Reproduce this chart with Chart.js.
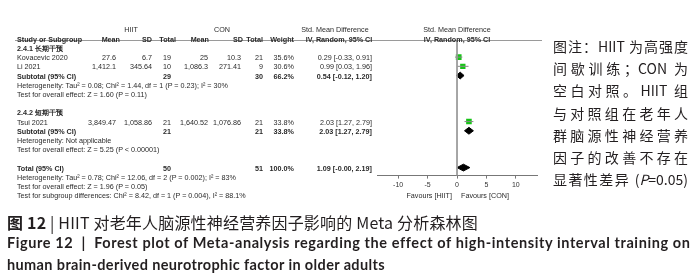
<!DOCTYPE html>
<html>
<head>
<meta charset="utf-8">
<script src="https://cdn.jsdelivr.net/npm/chart.js@4.4.1/dist/chart.umd.min.js"></script>
<style>
body{margin:0;width:700px;height:280px;background:#fff;position:relative;overflow:hidden;font-family:"Liberation Sans",Arial,sans-serif}
#forest{position:absolute;left:0;top:0;width:555px;height:205px}
#forest canvas{position:absolute;left:0;top:0}
#table{position:absolute;left:0;top:0;width:555px;height:205px}
.cell{position:absolute;white-space:nowrap;font-size:7.2px;line-height:9px;color:#2a2a2a}
.cell.b{font-weight:bold}
#note{position:absolute;left:553px;top:35px;width:135px;font-family:"Noto Sans CJK SC",sans-serif;font-size:14px;line-height:22.2px;color:#231f20}
#note div{text-align:justify;text-align-last:justify;height:22.2px}
.cap{position:absolute;left:7px;white-space:nowrap;color:#231f20}
#cap1{top:210px;font-family:"Noto Sans CJK SC",sans-serif;font-size:16px}
#cap2{top:234px;font-family:Lato,"Noto Sans",sans-serif;font-weight:bold;font-size:14.5px}
#cap3{top:256px;font-family:Lato,"Noto Sans",sans-serif;font-weight:bold;font-size:14.5px}
</style>
</head>
<body>
<div id="forest"><canvas id="plot" width="555" height="205"></canvas><div id="table"></div></div>
<div id="note">
<div>图注：HIIT 为高强度</div>
<div>间歇训练；CON 为</div>
<div>空白对照。HIIT 组</div>
<div>与对照组在老年人</div>
<div>群脑源性神经营养</div>
<div>因子的改善不存在</div>
<div>显著性差异 (<i>P</i>=0.05)</div>
</div>
<div class="cap" id="cap1"><b>图 12</b> | HIIT 对老年人脑源性神经营养因子影响的 Meta 分析森林图</div>
<div class="cap" id="cap2">Figure 12&nbsp; |&nbsp; Forest plot of Meta-analysis regarding the effect of high-intensity interval training on</div>
<div class="cap" id="cap3">human brain-derived neurotrophic factor in older adults</div>
<script>
// data
const xTicks = [-10, -5, 0, 5, 10];
const groupNames = ['2.4.1 长期干预', '2.4.2 短期干预'];
const studyNames = ['Kovacevic 2020', 'Li 2021', 'Tsui 2021'];
const hiitMean = [27.6, 1412.1, 3849.47];
const hiitSD = [6.7, 345.64, 1058.86];
const hiitN = [19, 10, 21];
const conMean = [25, 1086.3, 1640.52];
const conSD = [10.3, 271.41, 1076.86];
const conN = [21, 9, 21];
const weight = [35.6, 30.6, 33.8];
const smd = [0.29, 0.99, 2.03];
const ciLow = [-0.33, 0.03, 1.27];
const ciHigh = [0.91, 1.96, 2.79];
const subHiitN = [29, 21];
const subConN = [30, 21];
const subWeight = [66.2, 33.8];
const subSmd = [0.54, 2.03];
const subLow = [-0.12, 1.27];
const subHigh = [1.20, 2.79];
const subHet = ['Heterogeneity: Tau² = 0.08; Chi² = 1.44, df = 1 (P = 0.23); I² = 30%', 'Heterogeneity: Not applicable'];
const subTest = ['Test for overall effect: Z = 1.60 (P = 0.11)', 'Test for overall effect: Z = 5.25 (P < 0.00001)'];
const totalHiitN = 50;
const totalConN = 51;
const totalWeight = 100.0;
const totalSmd = 1.09;
const totalLow = -0.001;
const totalHigh = 2.19;
const totalHet = 'Heterogeneity: Tau² = 0.78; Chi² = 12.06, df = 2 (P = 0.002); I² = 83%';
const totalTest = 'Test for overall effect: Z = 1.96 (P = 0.05)';
const subgroupTest = 'Test for subgroup differences: Chi² = 8.42, df = 1 (P = 0.004), I² = 88.1%';

// row positions (row index on the hidden y scale)
const groupRow = [0, 7];
const studyRow = [1, 2, 8];
const subRow = [3, 9];
const hetRow = [4, 10];
const testRow = [5, 11];
const totalRow = 13;
const yTop = -0.86, yBottom = 13.87;
const dh = 0.37;

const fmt = v => v.toLocaleString('en-US', {maximumFractionDigits: 2});
const ci = (e, l, h) => e.toFixed(2) + ' [' + l.toFixed(2) + ', ' + h.toFixed(2) + ']';

function diamond(est, lo, hi, row){
    return {
        data: [{x: lo, y: row}, {x: est, y: row - dh}, {x: hi, y: row}, {x: est, y: row + dh}, {x: lo, y: row}],
        showLine: true, fill: 'shape', tension: 0,
        borderColor: '#000', backgroundColor: '#000', borderWidth: 1, pointRadius: 0
    };
}

var datasets = [];
datasets.push({data: [{x: 0, y: yTop}, {x: 0, y: yBottom}], showLine: true, borderColor: '#9a9a9a', borderWidth: 1, pointRadius: 0});
studyNames.forEach((n, i) => {
    datasets.push({data: [{x: ciLow[i], y: studyRow[i]}, {x: ciHigh[i], y: studyRow[i]}], showLine: true, borderColor: '#8a8a8a', borderWidth: 1, pointRadius: 0});
});
datasets.push({
    data: smd.map((v, i) => ({x: v, y: studyRow[i]})),
    pointStyle: 'rect',
    pointRadius: weight.map(w => 0.68 * Math.sqrt(w)),
    backgroundColor: '#16c416', borderColor: '#16c416', borderWidth: 0
});
subSmd.forEach((v, i) => datasets.push(diamond(v, subLow[i], subHigh[i], subRow[i])));
datasets.push(diamond(totalSmd, totalLow, totalHigh, totalRow));

const tablePlugin = {
    id: 'table',
    beforeDatasetsDraw(chart){
        const ctx = chart.ctx;
        const top = Math.round(chart.chartArea.top) + 0.5;
        ctx.save();
        ctx.strokeStyle = '#9a9a9a';
        ctx.lineWidth = 1;
        ctx.beginPath();
        ctx.moveTo(15, top);
        ctx.lineTo(542, top);
        ctx.stroke();
        ctx.restore();
    },
    afterRender(chart){
        if (chart.$tableDone) return;
        chart.$tableDone = true;
        const ys = chart.scales.y, xs = chart.scales.x;
        const box = document.getElementById('table');
        const put = (txt, px, row, align, bold) => {
            const d = document.createElement('div');
            d.className = 'cell' + (bold ? ' b' : '');
            d.textContent = txt;
            d.style.left = px + 'px';
            d.style.top = ys.getPixelForValue(row) + 'px';
            const tx = align == 'r' ? '-100%' : align == 'c' ? '-50%' : '0';
            d.style.transform = 'translate(' + tx + ',-50%)';
            box.appendChild(d);
        };
        const zero = xs.getPixelForValue(0);
        // headers
        put('HIIT', 131, -2.1, 'c');
        put('CON', 222, -2.1, 'c');
        put('Std. Mean Difference', 335, -2.1, 'c');
        put('Std. Mean Difference', zero, -2.1, 'c');
        put('Study or Subgroup', 17, -1, 'l', true);
        put('Mean', 120, -1, 'r', true);
        put('SD', 152, -1, 'r', true);
        put('Total', 176, -1, 'r', true);
        put('Mean', 209, -1, 'r', true);
        put('SD', 243, -1, 'r', true);
        put('Total', 263, -1, 'r', true);
        put('Weight', 294, -1, 'r', true);
        put('IV, Random, 95% CI', 339, -1, 'c', true);
        put('IV, Random, 95% CI', zero, -1, 'c', true);
        // groups
        groupNames.forEach((g, gi) => {
            put(g, 17, groupRow[gi], 'l', true);
            put('Subtotal (95% CI)', 17, subRow[gi], 'l', true);
            put(String(subHiitN[gi]), 171, subRow[gi], 'r', true);
            put(String(subConN[gi]), 263, subRow[gi], 'r', true);
            put(subWeight[gi].toFixed(1) + '%', 294, subRow[gi], 'r', true);
            put(ci(subSmd[gi], subLow[gi], subHigh[gi]), 372, subRow[gi], 'r', true);
            put(subHet[gi], 17, hetRow[gi], 'l');
            put(subTest[gi], 17, testRow[gi], 'l');
        });
        studyNames.forEach((n, i) => {
            const r = studyRow[i];
            put(n, 17, r, 'l');
            put(fmt(hiitMean[i]), 116, r, 'r');
            put(fmt(hiitSD[i]), 152, r, 'r');
            put(String(hiitN[i]), 171, r, 'r');
            put(fmt(conMean[i]), 208, r, 'r');
            put(fmt(conSD[i]), 241, r, 'r');
            put(String(conN[i]), 263, r, 'r');
            put(weight[i].toFixed(1) + '%', 294, r, 'r');
            put(ci(smd[i], ciLow[i], ciHigh[i]), 372, r, 'r');
        });
        put('Total (95% CI)', 17, totalRow, 'l', true);
        put(String(totalHiitN), 171, totalRow, 'r', true);
        put(String(totalConN), 263, totalRow, 'r', true);
        put(totalWeight.toFixed(1) + '%', 294, totalRow, 'r', true);
        put(ci(totalSmd, totalLow, totalHigh), 372, totalRow, 'r', true);
        put(totalHet, 17, totalRow + 1, 'l');
        put(totalTest, 17, totalRow + 2, 'l');
        put(subgroupTest, 17, totalRow + 3, 'l');
        put('Favours [HIIT]', zero - 5, totalRow + 3, 'r');
        put('Favours [CON]', zero + 4, totalRow + 3, 'l');
    }
};

var ctx = document.getElementById('plot').getContext('2d');
var forest = new Chart(ctx, {
    type: 'scatter',
    data: {datasets: datasets},
    options: {
        responsive: false,
        animation: false,
        devicePixelRatio: 1,
        layout: {padding: {left: 377, right: 18, top: 40, bottom: 14}},
        plugins: {legend: {display: false}, tooltip: {enabled: false}},
        scales: {
            x: {
                type: 'linear', min: -13.6, max: 13.6,
                afterBuildTicks: s => { s.ticks = xTicks.map(v => ({value: v})); },
                grid: {drawOnChartArea: false, drawTicks: true, tickLength: 3, color: '#777'},
                border: {display: true, color: '#777'},
                ticks: {font: {size: 7, family: 'Liberation Sans'}, color: '#333', padding: 2, maxRotation: 0}
            },
            y: {type: 'linear', display: false, reverse: true, min: yTop, max: yBottom}
        }
    },
    plugins: [tablePlugin]
});

// stretch the caption lines to the widths they have in the figure
[['cap1', 478], ['cap2', 690], ['cap3', 385]].forEach(([id, right]) => {
    const el = document.getElementById(id);
    const n = el.textContent.length;
    const w = el.getBoundingClientRect().width;
    el.style.letterSpacing = ((right - 7 - w) / n) + 'px';
});
</script>
</body>
</html>
